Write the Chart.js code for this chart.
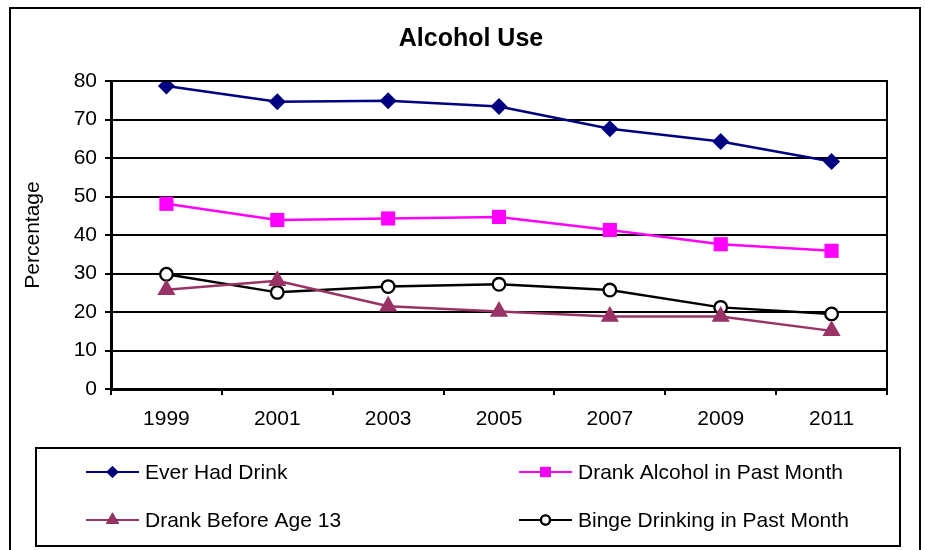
<!DOCTYPE html>
<html>
<head>
<meta charset="utf-8">
<script src="https://cdn.jsdelivr.net/npm/chart.js@4.4.1/dist/chart.umd.min.js"></script>
<style>
    body { margin: 0; background: #fff; }
    #wrap { width: 925px; height: 550px; }
</style>
</head>
<body>
<div id="wrap"><canvas id="alcoholChart" width="925" height="550"></canvas></div>
<script>
const years = ["1999", "2001", "2003", "2005", "2007", "2009", "2011"];
const everHadDrink = [78.7, 74.6, 74.9, 73.4, 67.6, 64.3, 59.1];
const drankPastMonth = [48.1, 43.9, 44.3, 44.7, 41.3, 37.6, 35.9];
const drankBefore13 = [25.8, 28.1, 21.5, 20.1, 18.8, 18.8, 15.1];
const bingePastMonth = [29.8, 25.1, 26.6, 27.2, 25.7, 21.2, 19.5];
const yTicks = [0, 10, 20, 30, 40, 50, 60, 70, 80];

const FONT = "Arial, 'Liberation Sans', sans-serif";

// legend markers are drawn a bit smaller than the ones on the lines
const legendScale = 0.72;

// title, frames and the boxed two-column legend
const decorations = {
    id: "decorations",
    afterDraw(chart) {
        const ctx = chart.ctx;
        const area = chart.chartArea;
        ctx.save();

        ctx.strokeStyle = "#000";
        ctx.lineWidth = 2;
        ctx.strokeRect(10, 8, 910, 550);
        ctx.strokeRect(area.left, area.top, area.right - area.left, area.bottom - area.top);

        ctx.fillStyle = "#000";
        ctx.font = "bold 25px " + FONT;
        ctx.textAlign = "center";
        ctx.textBaseline = "middle";
        ctx.fillText("Alcohol Use", 471, 39);

        ctx.strokeRect(36, 448, 864, 98);

        const cols = [86, 519];
        const rows = [472, 520];
        ctx.font = "21px " + FONT;
        ctx.textAlign = "left";
        chart.data.datasets.forEach((ds, i) => {
            const x = cols[i % 2];
            const y = rows[Math.floor(i / 2)];
            ctx.strokeStyle = ds.borderColor;
            ctx.lineWidth = 2;
            ctx.beginPath();
            ctx.moveTo(x, y);
            ctx.lineTo(x + 53, y);
            ctx.stroke();
            Chart.helpers.drawPoint(ctx, {
                pointStyle: ds.pointStyle,
                radius: ds.pointRadius * legendScale,
                borderWidth: ds.pointBorderWidth
            }, x + 26.5, y);
            ctx.fillStyle = ds.pointBackgroundColor;
            ctx.strokeStyle = ds.pointBorderColor;
            ctx.lineWidth = ds.pointBorderWidth;
            ctx.fill();
            if (ds.pointBorderWidth) ctx.stroke();
            ctx.fillStyle = "#000";
            ctx.fillText(ds.label, x + 59, y + 1);
        });
        ctx.restore();
    }
};

function series(label, data, color, style, radius, fill, borderWidth) {
    return {
        label: label,
        data: data,
        borderColor: color,
        borderWidth: 2.5,
        pointStyle: style,
        pointRadius: radius,
        pointHoverRadius: radius,
        pointBackgroundColor: fill,
        pointBorderColor: color,
        pointBorderWidth: borderWidth,
        tension: 0
    };
}

new Chart(document.getElementById("alcoholChart"), {
    type: "line",
    data: {
        labels: years,
        datasets: [
            series("Ever Had Drink", everHadDrink, "#000080", "rectRot", 8.5, "#000080", 0),
            series("Drank Alcohol in Past Month", drankPastMonth, "#FF00FF", "rect", 10, "#FF00FF", 0),
            series("Drank Before Age 13", drankBefore13, "#993366", "triangle", 10.5, "#993366", 0),
            series("Binge Drinking in Past Month", bingePastMonth, "#000000", "circle", 6.3, "#FFFFFF", 2.3)
        ]
    },
    options: {
        responsive: false,
        animation: false,
        layout: { padding: { left: 18, right: 38, top: 81, bottom: 121 } },
        plugins: {
            legend: { display: false },
            title: { display: false },
            tooltip: { enabled: false }
        },
        scales: {
            x: {
                offset: true,
                afterFit: s => { s.height = 40; },
                grid: { offset: true, drawOnChartArea: false, tickLength: 6, color: "#000", lineWidth: 2 },
                border: { color: "#000", width: 3 },
                ticks: { color: "#000", padding: 12, font: { family: FONT, size: 21 } }
            },
            y: {
                min: 0,
                max: 80,
                afterFit: s => { s.width = 93; },
                afterBuildTicks: s => { s.ticks = yTicks.map(v => ({ value: v })); },
                grid: { color: "#000", lineWidth: 2, tickLength: 6 },
                border: { color: "#000", width: 3 },
                ticks: { color: "#000", padding: 8, font: { family: FONT, size: 21 } },
                title: {
                    display: true,
                    text: "Percentage",
                    color: "#000",
                    padding: { top: 3, bottom: 3 },
                    font: { family: FONT, size: 21 }
                }
            }
        }
    },
    plugins: [decorations]
});
</script>
</body>
</html>
